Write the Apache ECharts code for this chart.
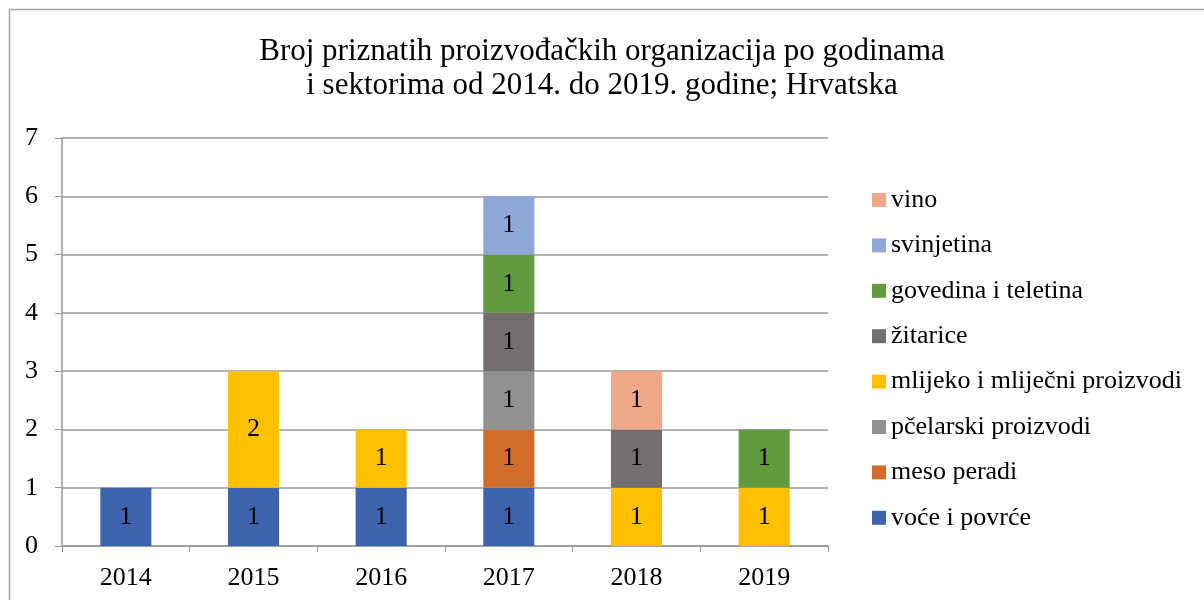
<!DOCTYPE html>
<html>
<head>
<meta charset="utf-8">
<script src="https://cdn.jsdelivr.net/npm/echarts@6/dist/echarts.min.js"></script>
<style>
  html, body { margin: 0; padding: 0; background: #fff; }
  #chart { width: 1204px; height: 600px; }
</style>
</head>
<body>
<div id="chart"></div>
<script>
// categories (years)
var years = ['2014', '2015', '2016', '2017', '2018', '2019'];

// sectors, stacked bottom to top
var sectors = [
  'voće i povrće',
  'meso peradi',
  'pčelarski proizvodi',
  'mlijeko i mliječni proizvodi',
  'žitarice',
  'govedina i teletina',
  'svinjetina',
  'vino'
];

// counts per sector per year (null = none)
var voceIPovrce = [1, 1, 1, 1, null, null];
var mesoPeradi = [null, null, null, 1, null, null];
var pcelarski = [null, null, null, 1, null, null];
var mlijeko = [null, 2, 1, null, 1, 1];
var zitarice = [null, null, null, 1, 1, null];
var govedina = [null, null, null, 1, null, 1];
var svinjetina = [null, null, null, 1, null, null];
var vino = [null, null, null, null, 1, null];

var seriesValues = [voceIPovrce, mesoPeradi, pcelarski, mlijeko, zitarice, govedina, svinjetina, vino];
var colors = ['#3D64AD', '#D26C2A', '#919191', '#FFC000', '#736F6E', '#619A3F', '#8FA7D7', '#F0A88A'];

var font = '"Liberation Serif", "DejaVu Serif", serif';

var chart = echarts.init(document.getElementById('chart'));

var series = sectors.map(function (name, i) {
  return {
    name: name,
    type: 'bar',
    stack: 'total',
    barWidth: '40%',
    data: seriesValues[i],
    itemStyle: { color: colors[i] },
    label: {
      show: true,
      position: 'inside',
      color: '#000',
      fontFamily: font,
      fontSize: 26
    }
  };
});

var option = {
  backgroundColor: '#fff',
  animation: false,
  title: {
    text: 'Broj priznatih proizvođačkih organizacija po godinama\ni sektorima od 2014. do 2019. godine; Hrvatska',
    left: 597,
    textAlign: 'center',
    top: 30,
    textStyle: {
      fontFamily: font,
      fontSize: 31,
      fontWeight: 'normal',
      color: '#000',
      lineHeight: 34
    }
  },
  legend: {
    orient: 'vertical',
    left: 867,
    top: 182,
    itemWidth: 14,
    itemHeight: 14,
    itemGap: 19.4,
    icon: 'rect',
    data: sectors.slice().reverse(),
    textStyle: {
      fontFamily: font,
      fontSize: 26,
      lineHeight: 26,
      color: '#000'
    }
  },
  grid: {
    left: 62,
    top: 138,
    width: 766,
    height: 408
  },
  xAxis: {
    type: 'category',
    data: years,
    axisLine: { lineStyle: { color: '#999', width: 1.5 } },
    axisTick: { show: true, length: 6, lineStyle: { color: '#999' } },
    axisLabel: {
      fontFamily: font,
      fontSize: 26,
      color: '#000',
      margin: 19
    }
  },
  yAxis: {
    type: 'value',
    min: 0,
    max: 7,
    interval: 1,
    axisLine: { show: true, lineStyle: { color: '#999', width: 1.5 } },
    axisTick: { show: true, length: 7, lineStyle: { color: '#999' } },
    splitLine: { lineStyle: { color: '#999', width: 1.5 } },
    axisLabel: {
      fontFamily: font,
      fontSize: 26,
      color: '#000',
      margin: 24
    }
  },
  graphic: [{
    type: 'rect',
    shape: { x: 9.5, y: 9.5, width: 1300, height: 700 },
    style: { fill: 'none', stroke: '#a6a6a6', lineWidth: 1.5 },
    silent: true
  }],
  series: series
};

chart.setOption(option);
</script>
</body>
</html>
